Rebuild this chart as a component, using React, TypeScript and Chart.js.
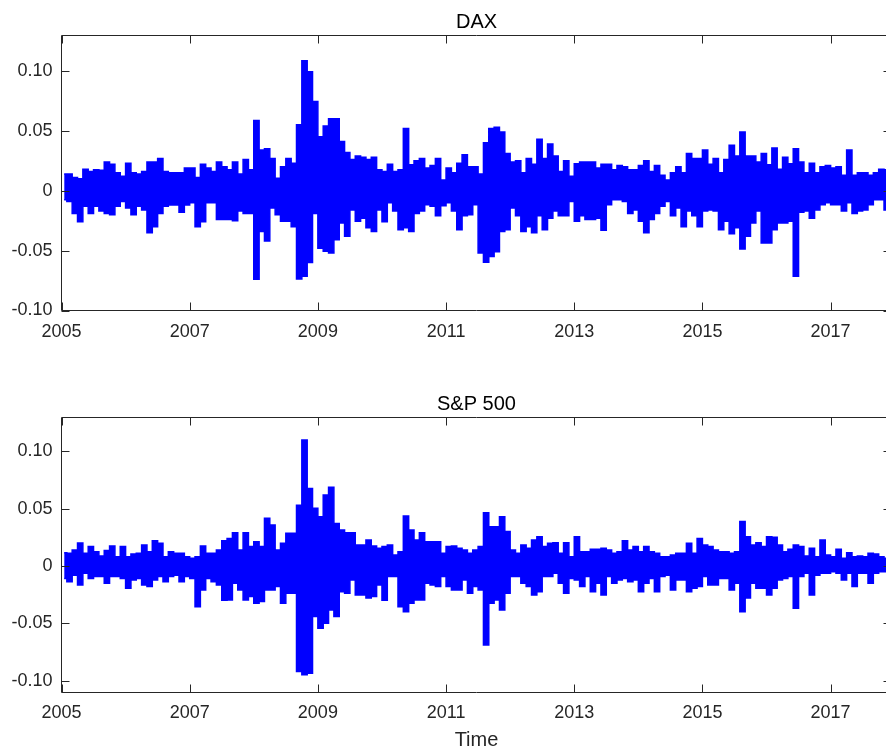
import React, { useEffect, useRef } from 'react';
import { Chart, registerables } from 'chart.js';

Chart.register(...registerables);

// ---- data (monthly high / low of daily returns) ----
const START_YEAR = 2005;
const X_MIN = 2005;
const X_MAX = 2017.95;
const X_TICKS = [2005, 2007, 2009, 2011, 2013, 2015, 2017];
const Y_TICKS = [-0.1, -0.05, 0, 0.05, 0.1];
const Y_TICK_LABELS = ['-0.10', '-0.05', '0', '0.05', '0.10'];

const DAX_HIGH = [
  0.014, 0.014, 0.011, 0.010, 0.018, 0.016, 0.0175, 0.017, 0.024, 0.022, 0.015, 0.012,
  0.023, 0.015, 0.014, 0.016, 0.024, 0.024, 0.027, 0.016, 0.015, 0.015, 0.015, 0.019,
  0.019, 0.011, 0.022, 0.019, 0.016, 0.024, 0.020, 0.0175, 0.024, 0.014, 0.026, 0.0175,
  0.0586, 0.034, 0.035, 0.027, 0.0105, 0.020, 0.027, 0.023, 0.055, 0.1086, 0.0994, 0.0744,
  0.045, 0.054, 0.060, 0.060, 0.041, 0.032, 0.026, 0.029, 0.028, 0.026, 0.028, 0.0175,
  0.016, 0.022, 0.016, 0.0175, 0.052, 0.0217, 0.025, 0.027, 0.019, 0.021, 0.027, 0.009,
  0.019, 0.015, 0.023, 0.030, 0.020, 0.020, 0.014, 0.040, 0.052, 0.053, 0.049, 0.031,
  0.024, 0.025, 0.015, 0.027, 0.022, 0.043, 0.027, 0.039, 0.029, 0.016, 0.025, 0.012,
  0.0225, 0.024, 0.024, 0.024, 0.019, 0.022, 0.022, 0.0175, 0.021, 0.020, 0.0175, 0.0175,
  0.021, 0.025, 0.016, 0.021, 0.013, 0.009, 0.015, 0.020, 0.015, 0.031, 0.027, 0.027,
  0.034, 0.022, 0.027, 0.015, 0.026, 0.038, 0.029, 0.049, 0.029, 0.029, 0.024, 0.031,
  0.0217, 0.0356, 0.018, 0.028, 0.0225, 0.035, 0.024, 0.015, 0.023, 0.015, 0.020, 0.021,
  0.019, 0.020, 0.013, 0.034, 0.013, 0.015, 0.015, 0.013, 0.015, 0.018, 0.0175,
];

const DAX_LOW = [
  -0.0075, -0.009, -0.019, -0.026, -0.013, -0.019, -0.013, -0.017, -0.019, -0.020, -0.013, -0.009,
  -0.0145, -0.020, -0.013, -0.016, -0.035, -0.030, -0.019, -0.013, -0.012, -0.012, -0.018, -0.012,
  -0.010, -0.030, -0.026, -0.010, -0.010, -0.024, -0.024, -0.024, -0.025, -0.017, -0.019, -0.019,
  -0.074, -0.034, -0.042, -0.0145, -0.020, -0.0255, -0.0255, -0.030, -0.0736, -0.0714, -0.060, -0.019,
  -0.048, -0.0506, -0.052, -0.041, -0.027, -0.038, -0.016, -0.0255, -0.023, -0.031, -0.034, -0.016,
  -0.026, -0.010, -0.017, -0.0325, -0.031, -0.034, -0.019, -0.017, -0.0117, -0.013, -0.021, -0.0125,
  -0.010, -0.017, -0.0325, -0.021, -0.020, -0.0117, -0.052, -0.0597, -0.055, -0.051, -0.034, -0.0325,
  -0.0145, -0.021, -0.034, -0.030, -0.035, -0.021, -0.0325, -0.023, -0.017, -0.021, -0.021, -0.009,
  -0.0255, -0.021, -0.024, -0.024, -0.023, -0.033, -0.0117, -0.0075, -0.0075, -0.009, -0.019, -0.016,
  -0.0255, -0.035, -0.024, -0.019, -0.013, -0.009, -0.021, -0.0145, -0.030, -0.017, -0.021, -0.030,
  -0.017, -0.016, -0.017, -0.0325, -0.0255, -0.036, -0.031, -0.0486, -0.038, -0.027, -0.017, -0.0436,
  -0.0436, -0.0325, -0.027, -0.027, -0.0255, -0.0714, -0.018, -0.017, -0.023, -0.016, -0.0117, -0.010,
  -0.0117, -0.0117, -0.017, -0.010, -0.019, -0.017, -0.016, -0.0117, -0.0075, -0.0075, -0.016,
];

const SP_HIGH = [
  0.0116, 0.011, 0.014, 0.020, 0.011, 0.0169, 0.0125, 0.0087, 0.0134, 0.0174, 0.008, 0.0169,
  0.008, 0.0105, 0.011, 0.0183, 0.0125, 0.022, 0.0198, 0.008, 0.0125, 0.011, 0.011, 0.008,
  0.0067, 0.008, 0.0174, 0.011, 0.011, 0.014, 0.022, 0.024, 0.029, 0.014, 0.029, 0.0169,
  0.0212, 0.0169, 0.0416, 0.0358, 0.014, 0.0198, 0.0285, 0.0285, 0.053, 0.110, 0.0677, 0.0503,
  0.043, 0.062, 0.0686, 0.037, 0.0314, 0.029, 0.029, 0.0183, 0.0183, 0.0227, 0.0174, 0.0154,
  0.0169, 0.0183, 0.0096, 0.0125, 0.0436, 0.0314, 0.0227, 0.029, 0.0212, 0.0212, 0.0212, 0.011,
  0.0169, 0.0174, 0.0154, 0.014, 0.011, 0.014, 0.0169, 0.0465, 0.0343, 0.0343, 0.043, 0.030,
  0.014, 0.011, 0.0183, 0.0154, 0.0227, 0.0256, 0.0169, 0.0198, 0.0203, 0.011, 0.0203, 0.008,
  0.0256, 0.0125, 0.0125, 0.0145, 0.0145, 0.0154, 0.014, 0.011, 0.0125, 0.022, 0.014, 0.0169,
  0.0125, 0.0169, 0.0125, 0.011, 0.008, 0.008, 0.0096, 0.011, 0.011, 0.0198, 0.011, 0.024,
  0.0183, 0.0169, 0.014, 0.0125, 0.0125, 0.011, 0.0125, 0.0387, 0.0256, 0.0183, 0.0203, 0.0169,
  0.0256, 0.025, 0.0183, 0.0125, 0.0145, 0.0183, 0.0169, 0.0087, 0.0154, 0.008, 0.0227, 0.0096,
  0.008, 0.0145, 0.0067, 0.0116, 0.008, 0.0087, 0.008, 0.011, 0.0105, 0.008, 0.0067,
];

const SP_LOW = [
  -0.011, -0.0137, -0.008, -0.0166, -0.0064, -0.011, -0.0093, -0.0093, -0.015, -0.0093, -0.0093, -0.011,
  -0.0195, -0.0122, -0.011, -0.0166, -0.018, -0.0122, -0.0093, -0.0137, -0.0093, -0.008, -0.0137, -0.0093,
  -0.011, -0.0355, -0.021, -0.011, -0.0137, -0.0166, -0.030, -0.0297, -0.015, -0.021, -0.0297, -0.0267,
  -0.0326, -0.031, -0.021, -0.021, -0.018, -0.0326, -0.0238, -0.0238, -0.092, -0.095, -0.0936, -0.044,
  -0.0544, -0.050, -0.0384, -0.044, -0.0224, -0.0238, -0.0122, -0.0253, -0.0253, -0.028, -0.0267, -0.0166,
  -0.030, -0.0093, -0.0093, -0.0355, -0.040, -0.0326, -0.0297, -0.0297, -0.015, -0.0166, -0.018, -0.0093,
  -0.018, -0.021, -0.021, -0.0122, -0.0238, -0.018, -0.021, -0.069, -0.0326, -0.0297, -0.0384, -0.0238,
  -0.0093, -0.0093, -0.015, -0.018, -0.0253, -0.0224, -0.0093, -0.0093, -0.0064, -0.015, -0.0238, -0.011,
  -0.0122, -0.018, -0.0093, -0.0224, -0.015, -0.0253, -0.0093, -0.015, -0.0122, -0.011, -0.0137, -0.0122,
  -0.0224, -0.015, -0.011, -0.0224, -0.0093, -0.008, -0.021, -0.0122, -0.0122, -0.0224, -0.0195, -0.018,
  -0.0093, -0.0166, -0.0166, -0.011, -0.011, -0.021, -0.015, -0.040, -0.028, -0.015, -0.0195, -0.0195,
  -0.0253, -0.0195, -0.0122, -0.011, -0.0093, -0.037, -0.0093, -0.0064, -0.0253, -0.008, -0.0064, -0.0064,
  -0.005, -0.0064, -0.0122, -0.0064, -0.018, -0.0064, -0.0064, -0.015, -0.0064, -0.005, -0.005,
];

// ---- helpers ----
function monthPoints(values: number[]) {
  return values.map((v, i) => ({ x: START_YEAR + (i + 0.5) / 12, y: v }));
}

const FONT_FAMILY = "'Liberation Sans', Arial, Helvetica, sans-serif";
const AXIS_COLOR = '#262626';
const LINE_BLUE = '#0000ff';

const framePlugin = {
  id: 'matlabFrame',
  afterDraw(chart: any) {
    const { ctx, chartArea: a, scales } = chart;
    const L = Math.floor(a.left) + 0.5;
    const R = Math.floor(a.right) + 0.5;
    const T = Math.floor(a.top) + 0.5;
    const B = Math.floor(a.bottom) + 0.5;
    const len = 8;
    ctx.save();
    ctx.strokeStyle = AXIS_COLOR;
    ctx.lineWidth = 1;
    ctx.beginPath();
    ctx.rect(L, T, R - L, B - T);
    for (const t of scales.x.ticks) {
      const px = Math.round(scales.x.getPixelForValue(t.value)) + 0.5;
      ctx.moveTo(px, B);
      ctx.lineTo(px, B - len);
      ctx.moveTo(px, T);
      ctx.lineTo(px, T + len);
    }
    for (const t of scales.y.ticks) {
      const py = Math.round(scales.y.getPixelForValue(t.value)) + 0.5;
      ctx.moveTo(L, py);
      ctx.lineTo(L + len, py);
      ctx.moveTo(R, py);
      ctx.lineTo(R - len, py);
    }
    ctx.stroke();
    ctx.restore();
  },
};

function makeConfig(opts: {
  title: string;
  high: number[];
  low: number[];
  yMin: number;
  yMax: number;
  titlePadTop: number;
  titlePadBottom: number;
  xHeight: number;
  xTitle: string | null;
}) {
  const common = {
    borderColor: LINE_BLUE,
    backgroundColor: LINE_BLUE,
    borderWidth: 1.5,
    pointRadius: 0,
    pointHoverRadius: 0,
    tension: 0,
    stepped: 'middle',
    borderJoinStyle: 'miter',
  };
  return {
    type: 'line',
    data: {
      datasets: [
        { ...common, data: monthPoints(opts.high), fill: false },
        { ...common, data: monthPoints(opts.low), fill: '-1' },
      ],
    },
    options: {
      responsive: false,
      animation: false,
      events: [],
      layout: { padding: { left: 0, right: 3.5, top: 0, bottom: 0 } },
      plugins: {
        legend: { display: false },
        tooltip: { enabled: false },
        filler: { propagate: false },
        title: {
          display: true,
          text: opts.title,
          fullSize: false,
          color: '#000000',
          font: { family: FONT_FAMILY, size: 20, weight: 'normal', lineHeight: 1.2 },
          padding: { top: opts.titlePadTop, bottom: opts.titlePadBottom },
        },
      },
      scales: {
        x: {
          type: 'linear',
          min: X_MIN,
          max: X_MAX,
          grid: { display: false, drawTicks: false },
          border: { display: false },
          afterBuildTicks: (s: any) => {
            s.ticks = X_TICKS.map((v) => ({ value: v }));
          },
          afterFit: (s: any) => {
            s.height = opts.xHeight;
          },
          ticks: {
            color: AXIS_COLOR,
            font: { family: FONT_FAMILY, size: 18, lineHeight: 1.2 },
            padding: 10.5,
            maxRotation: 0,
            minRotation: 0,
            autoSkip: false,
            callback: (_v: any, i: number) => String(X_TICKS[i]),
          },
          title: opts.xTitle
            ? {
                display: true,
                text: opts.xTitle,
                color: AXIS_COLOR,
                font: { family: FONT_FAMILY, size: 20, lineHeight: 1.2 },
                padding: { top: 0, bottom: 2.5 },
              }
            : { display: false },
        },
        y: {
          type: 'linear',
          min: opts.yMin,
          max: opts.yMax,
          grid: { display: false, drawTicks: false },
          border: { display: false },
          afterBuildTicks: (s: any) => {
            s.ticks = Y_TICKS.map((v) => ({ value: v }));
          },
          afterFit: (s: any) => {
            s.width = 61.5;
          },
          ticks: {
            color: AXIS_COLOR,
            font: { family: FONT_FAMILY, size: 18, lineHeight: 1.2 },
            padding: 9,
            autoSkip: false,
            callback: (_v: any, i: number) => Y_TICK_LABELS[i],
          },
        },
      },
    },
    plugins: [framePlugin],
  };
}

function ChartCanvas(props: { config: any; width: number; height: number; top: number }) {
  const ref = useRef<HTMLCanvasElement | null>(null);
  useEffect(() => {
    if (!ref.current) return;
    const chart = new Chart(ref.current, props.config);
    return () => chart.destroy();
  }, []);
  return (
    <canvas
      ref={ref}
      width={props.width}
      height={props.height}
      style={{
        position: 'absolute',
        left: 0,
        top: props.top,
        width: props.width,
        height: props.height,
        display: 'block',
      }}
    />
  );
}

export default function App() {
  const daxConfig = makeConfig({
    title: 'DAX',
    high: DAX_HIGH,
    low: DAX_LOW,
    yMin: -0.1,
    yMax: 0.13,
    titlePadTop: 10,
    titlePadBottom: 1,
    xHeight: 49.5,
    xTitle: null,
  });
  const spConfig = makeConfig({
    title: 'S&P 500',
    high: SP_HIGH,
    low: SP_LOW,
    yMin: -0.11,
    yMax: 0.13,
    titlePadTop: 22,
    titlePadBottom: 1,
    xHeight: 63,
    xTitle: 'Time',
  });
  return (
    <div
      style={{
        position: 'fixed',
        left: 0,
        top: 0,
        width: 886,
        height: 749,
        overflow: 'hidden',
        background: '#ffffff',
      }}
    >
      <ChartCanvas config={daxConfig} width={895} height={360} top={0} />
      <ChartCanvas config={spConfig} width={895} height={385} top={370} />
    </div>
  );
}
